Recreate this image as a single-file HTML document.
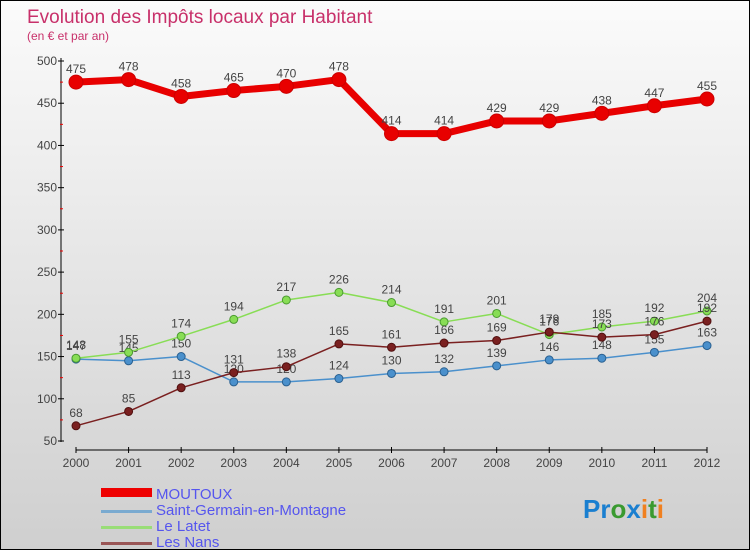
<!DOCTYPE html>
<html><head><meta charset="utf-8"><style>
body{margin:0;}
#wrap{width:748px;height:548px;border:1px solid #000;background:linear-gradient(#fbfbfb,#cfcfcf);position:relative;font-family:"Liberation Sans",sans-serif;overflow:hidden}
svg text{font-family:"Liberation Sans",sans-serif}
</style></head><body>
<div id="wrap">
<svg id="c" width="748" height="548">
<text x="26" y="22" font-size="19" fill="#c8306a">Evolution des Impôts locaux par Habitant</text>
<text x="26" y="39" font-size="12" fill="#c8306a">(en € et par an)</text>
<g id="axes"></g><g id="series"></g>
<g>
<rect x="100" y="487" width="51" height="9" fill="#e00"/>
<text x="155" y="498" font-size="15" fill="#5555ee">MOUTOUX</text>
<rect x="100" y="509" width="51" height="3" fill="#7aaad0"/>
<text x="155" y="514" font-size="15" fill="#5555ee">Saint-Germain-en-Montagne</text>
<rect x="100" y="525" width="51" height="3" fill="#99dd77"/>
<text x="155" y="530" font-size="15" fill="#5555ee">Le Latet</text>
<rect x="100" y="541" width="51" height="3" fill="#995555"/>
<text x="155" y="546" font-size="15" fill="#5555ee">Les Nans</text>
</g>
<text x="582" y="517" font-size="26" font-weight="bold"><tspan fill="#1a7fd0">Pr</tspan><tspan fill="#3a9a30">o</tspan><tspan fill="#1a7fd0">x</tspan><tspan fill="#f08020">i</tspan><tspan fill="#3a9a30">t</tspan><tspan fill="#f08020">i</tspan></text>
</svg></div>
<script>
const years=[2000,2001,2002,2003,2004,2005,2006,2007,2008,2009,2010,2011,2012];
const yTicks=[50,100,150,200,250,300,350,400,450,500];
const moutoux=[475,478,458,465,470,478,414,414,429,429,438,447,455];
const saintGermain=[147,145,150,120,120,124,130,132,139,146,148,155,163];
const leLatet=[148,155,174,194,217,226,214,191,201,176,185,192,204];
const lesNans=[68,85,113,131,138,165,161,166,169,179,173,176,192];
const NS="http://www.w3.org/2000/svg";
const X=i=>75+i*(706-75)/12, Y=v=>60+(500-v)*(380/450);
function mk(t,a,p){const e=document.createElementNS(NS,t);for(const k in a)e.setAttribute(k,a[k]);p.appendChild(e);return e;}
const ax=document.getElementById('axes');
let l=mk('line',{x1:60,y1:57,x2:60,y2:441,stroke:'#000'},ax);


l=mk('line',{x1:75,y1:449,x2:706,y2:449,stroke:'#000'},ax);


yTicks.forEach(v=>{mk('line',{x1:57,x2:63,y1:Y(v),y2:Y(v),stroke:'#000'},ax);
 if(v<500)mk('line',{x1:59,x2:62,y1:Y(v+25),y2:Y(v+25),stroke:'#e00'},ax);
 const t=mk('text',{x:56,y:Y(v)+4,'font-size':12,fill:'#444','text-anchor':'end'},ax);t.textContent=v;
 
 });
years.forEach((y,i)=>{mk('line',{x1:X(i),x2:X(i),y1:446,y2:452,stroke:'#000'},ax);
 const t=mk('text',{x:X(i),y:466,'font-size':12,fill:'#444','text-anchor':'middle'},ax);t.textContent=y;
 
 });
const sg=document.getElementById('series');
function draw(data,color,w,r,name,stroke){
 const g=mk('g',{},sg);
 
 
 mk('polyline',{points:data.map((v,i)=>X(i)+','+Y(v)).join(' '),fill:'none',stroke:color,'stroke-width':w,'stroke-linejoin':'round'},g);
 data.forEach((v,i)=>{const c=mk('circle',{cx:X(i),cy:Y(v),r:r,fill:color,stroke:stroke,'stroke-width':1},g);
  
  
  const t=mk('text',{x:X(i),y:Y(v)-9,'font-size':12,fill:'#444','text-anchor':'middle'},g);t.textContent=v;
  
  });
}
draw(saintGermain,'#4a90cc',1.5,4,'saint-germain','#2a6090');
draw(leLatet,'#88dd55',1.5,4,'le-latet','#4a9a30');
draw(lesNans,'#7a2020',1.5,4,'les-nans','#501010');
draw(moutoux,'#e80000',7,7,'moutoux','#c00');
</script>
</body></html>
